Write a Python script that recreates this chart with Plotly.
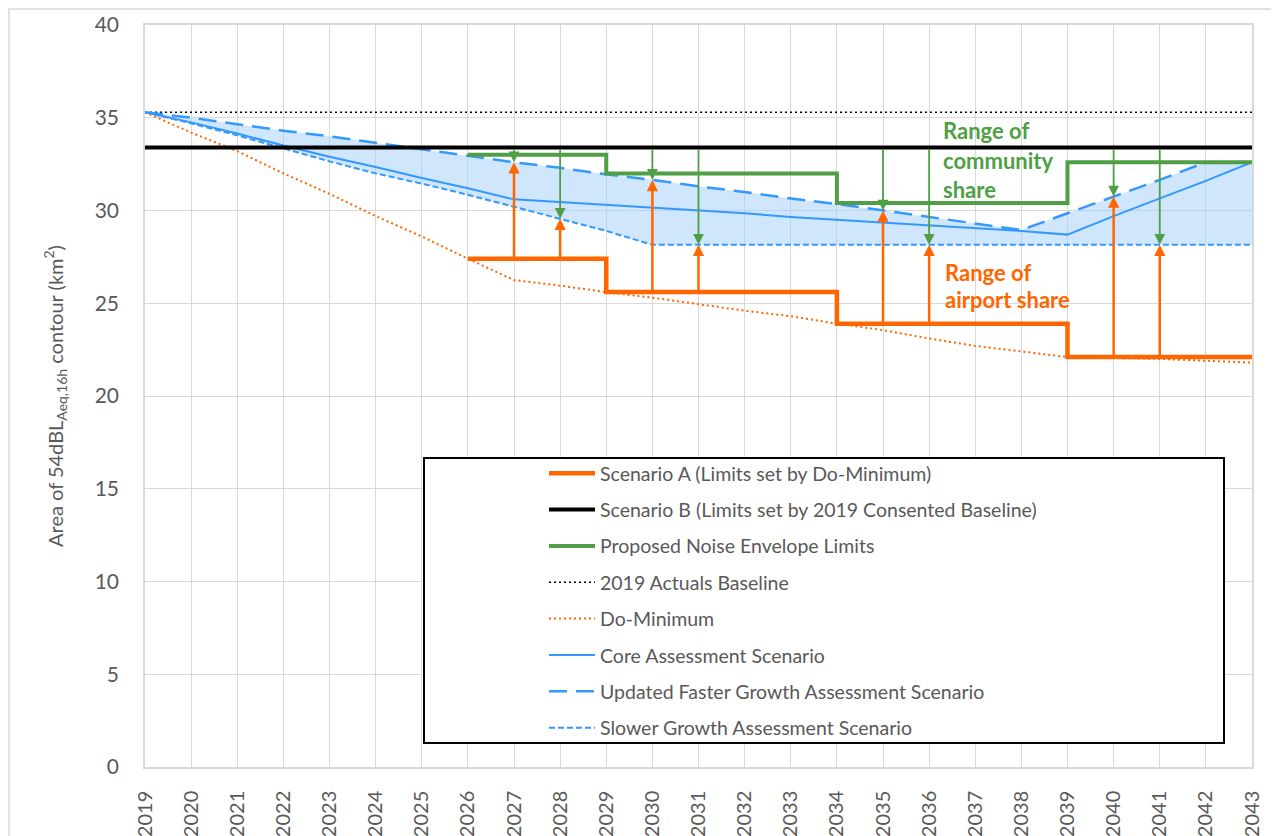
import plotly.graph_objects as go

# ---------------- data ----------------
years = list(range(2019, 2044))

do_minimum = [35.3, 34.2, 33.2, 32.0, 30.9, 29.7, 28.6, 27.4, 26.25, 25.95,
              25.6, 25.3, 24.95, 24.6, 24.3, 23.9, 23.55, 23.1, 22.7, 22.4,
              22.1, 22.05, 22.0, 21.9, 21.8]
core = [35.3, 34.75, 34.15, 33.5, 32.9, 32.35, 31.75, 31.2, 30.6, 30.45,
        30.3, 30.15, 30.0, 29.85, 29.65, 29.5, 29.35, 29.2, 29.05, 28.9,
        28.7, 29.7, 30.65, 31.6, 32.6]
faster = [35.3, 35.0, 34.65, 34.3, 34.0, 33.65, 33.3, 32.95, 32.6, 32.3,
          31.95, 31.65, 31.3, 31.0, 30.65, 30.35, 30.0, 29.65, 29.3, 28.95,
          29.85, 30.75, 31.65, 32.6, 32.6]
slower = [35.3, 34.7, 34.05, 33.35, 32.65, 32.0, 31.45, 30.85, 30.2, 29.55,
          28.9, 28.15, 28.15, 28.15, 28.15, 28.15, 28.15, 28.15, 28.15, 28.15,
          28.15, 28.15, 28.15, 28.15, 28.15]

actuals_2019 = 35.3
scenario_b = 33.4

step_years = [2026, 2029, 2034, 2039, 2043]
scenario_a = [27.4, 25.6, 23.9, 22.1, 22.1]
envelope = [33.0, 32.0, 30.4, 32.6, 32.6]

arrow_years_upper = [2027, 2030, 2035, 2040]   # split at faster growth line
arrow_years_lower = [2028, 2031, 2036, 2041]   # split at slower growth line

legend_names = [
    "Scenario A (Limits set by Do-Minimum)",
    "Scenario B (Limits set by 2019 Consented Baseline)",
    "Proposed Noise Envelope Limits",
    "2019 Actuals Baseline",
    "Do-Minimum",
    "Core Assessment Scenario",
    "Updated Faster Growth Assessment Scenario",
    "Slower Growth Assessment Scenario",
]

# ---------------- style ----------------
ORANGE = "#FF6600"
GREEN = "#4E9F45"
BLUE = "#3399FF"
GREY_TXT = "#595959"
GRID = "#D9D9D9"
FONT = "Lato"

fig = go.Figure()

# shaded range between slower and faster
fig.add_trace(go.Scatter(
    x=years + years[::-1], y=faster + slower[::-1], fill="toself",
    fillcolor="rgba(160,205,250,0.5)", line=dict(width=0), mode="lines",
    showlegend=False, hoverinfo="skip"))

fig.add_trace(go.Scatter(
    x=years, y=do_minimum, mode="lines", name=legend_names[4],
    line=dict(color=ORANGE, width=2, dash="2px,3px"),
    legendrank=5, legendgroup="g5"))
fig.add_trace(go.Scatter(
    x=[years[0], years[-1]], y=[actuals_2019, actuals_2019], mode="lines",
    name=legend_names[3], line=dict(color="black", width=1.5, dash="2px,3px"),
    legendrank=4, legendgroup="g4"))
fig.add_trace(go.Scatter(
    x=years, y=core, mode="lines", name=legend_names[5],
    line=dict(color=BLUE, width=2), legendrank=6, legendgroup="g6"))
fig.add_trace(go.Scatter(
    x=years, y=faster, mode="lines", name=legend_names[6],
    line=dict(color=BLUE, width=2.5, dash="18px,9px"),
    legendrank=7, legendgroup="g7"))
fig.add_trace(go.Scatter(
    x=years, y=slower, mode="lines", name=legend_names[7],
    line=dict(color=BLUE, width=2, dash="6px,3px"),
    legendrank=8, legendgroup="g8"))
fig.add_trace(go.Scatter(
    x=[years[0], years[-1]], y=[scenario_b, scenario_b], mode="lines",
    name=legend_names[1], line=dict(color="black", width=4),
    legendrank=2, legendgroup="g2"))
fig.add_trace(go.Scatter(
    x=step_years, y=envelope, mode="lines", line_shape="hv",
    name=legend_names[2], line=dict(color=GREEN, width=4),
    legendrank=3, legendgroup="g3"))
fig.add_trace(go.Scatter(
    x=step_years, y=scenario_a, mode="lines", line_shape="hv",
    name=legend_names[0], line=dict(color=ORANGE, width=4.5),
    legendrank=1, legendgroup="g1"))


def step_value(xs, ys, year):
    val = ys[0]
    for xv, yv in zip(xs, ys):
        if xv <= year:
            val = yv
    return val


annotations = []
for yr in arrow_years_upper + arrow_years_lower:
    idx = years.index(yr)
    split = faster[idx] if yr in arrow_years_upper else slower[idx]
    # orange: airport share, upwards from Scenario A
    annotations.append(dict(
        x=yr, y=split, ax=yr, ay=step_value(step_years, scenario_a, yr),
        xref="x", yref="y", axref="x", ayref="y", text="", showarrow=True,
        arrowhead=2, arrowwidth=2.5, arrowsize=0.9, arrowcolor=ORANGE,
        standoff=0, startstandoff=0))
    # green: community share, downwards from Scenario B
    annotations.append(dict(
        x=yr, y=split, ax=yr, ay=scenario_b,
        xref="x", yref="y", axref="x", ayref="y", text="", showarrow=True,
        arrowhead=2, arrowwidth=1.8, arrowsize=1.2, arrowcolor=GREEN,
        standoff=0, startstandoff=0))

label_font_g = dict(family=FONT, size=22, color=GREEN)
label_font_o = dict(family=FONT, size=22, color=ORANGE)
for txt, yv in [("<b>Range of</b>", 34.29), ("<b>community</b>", 32.72), ("<b>share</b>", 31.11)]:
    annotations.append(dict(x=2036.26, y=yv, xref="x", yref="y", text=txt,
                            showarrow=False, xanchor="left", yanchor="middle",
                            font=label_font_g))
for txt, yv in [("<b>Range of</b>", 26.68), ("<b>airport share</b>", 25.18)]:
    annotations.append(dict(x=2036.3, y=yv, xref="x", yref="y", text=txt,
                            showarrow=False, xanchor="left", yanchor="middle",
                            font=label_font_o))

# page body has an 8px margin in the written html; compensate so that the
# plot area lands at x 145..1252, y 25..767 of the 1279x836 window
OFF = 8
W, H = 1279 - OFF, 836 - OFF
PL, PR, PT, PB = 145, 1252, 25, 767          # plot area in window pixels
L, T = PL - OFF, PT - OFF
R, B = W - (PR - OFF), H - (PB - OFF)
pw, ph = PR - PL, PB - PT


def px_x(p):
    return (p - PL) / pw


def px_y(p):
    return (PB - p) / ph


shapes = [
    # outer chart frame (as close to the window corner as the page allows)
    dict(type="rect", xref="paper", yref="paper", x0=px_x(9), x1=px_x(1400),
         y0=px_y(900), y1=px_y(9), line=dict(color=GRID, width=1.5),
         fillcolor="rgba(0,0,0,0)", layer="below"),
    # legend box
    dict(type="rect", xref="paper", yref="paper", x0=px_x(424), x1=px_x(1224),
         y0=px_y(743), y1=px_y(458), line=dict(color="black", width=2),
         fillcolor="white", layer="above"),
]

fig.update_layout(
    width=W, height=H,
    margin=dict(l=L, r=R, t=T, b=B, autoexpand=False),
    paper_bgcolor="white", plot_bgcolor="white",
    font=dict(family=FONT, color=GREY_TXT, size=20),
    showlegend=True,
    legend=dict(x=px_x(544), y=px_y(454), xanchor="left", yanchor="top",
                bgcolor="rgba(0,0,0,0)", borderwidth=0,
                font=dict(family=FONT, size=19.5, color=GREY_TXT),
                traceorder="grouped", tracegroupgap=8, itemwidth=46),
    annotations=annotations,
    shapes=shapes,
)

fig.update_xaxes(
    range=[2019, 2043], tickmode="array", tickvals=years,
    ticktext=[str(y) for y in years], tickangle=-90,
    tickfont=dict(family=FONT, size=20, color=GREY_TXT),
    showgrid=True, gridcolor=GRID, gridwidth=1,
    showline=True, linecolor=GRID, linewidth=1.5, mirror=True,
    zeroline=False, ticks="", ticklabelstandoff=14, automargin=False,
)
fig.update_yaxes(
    range=[0, 40], tickmode="array", tickvals=list(range(0, 41, 5)),
    tickfont=dict(family=FONT, size=21, color=GREY_TXT),
    showgrid=True, gridcolor=GRID, gridwidth=1,
    showline=True, linecolor=GRID, linewidth=1.5, mirror=True,
    zeroline=False, ticks="", ticklabelstandoff=20, automargin=False,
    title=dict(text="Area of 54dBL<sub>Aeq,16h</sub> contour (km<sup>2</sup>)",
               font=dict(family=FONT, size=20, color=GREY_TXT), standoff=26),
)

fig.write_html("out.html")
